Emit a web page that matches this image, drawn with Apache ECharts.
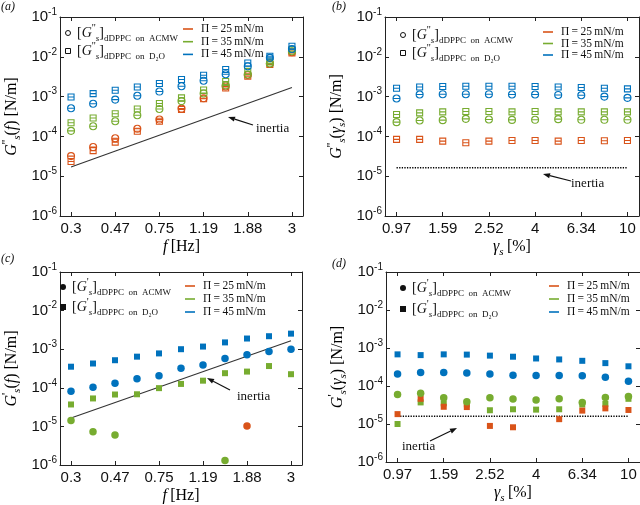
<!DOCTYPE html>
<html><head><meta charset="utf-8">
<script src="https://cdn.jsdelivr.net/npm/echarts@6/dist/echarts.min.js"></script>
<style>html,body{margin:0;padding:0;background:#fff}#c{width:640px;height:505px}</style>
</head><body><div id="c"></div><script>
// ---------- categories (tick labels shown every other one) ----------
const fCats = ['0.3','0.38','0.47','0.6','0.75','0.95','1.19','1.5','1.88','2.38','3'];
const gCats = ['0.97','1.26','1.59','2','2.52','3.17','4','5.04','6.34','8','10'];
const yMin = 1e-6, yMax = 1e-1;

// ---------- panel (a): G''s(f) ----------
const aRedCircle   = [3.2e-5,5.4e-5,9.0e-5,1.55e-4,2.65e-4,5.0e-4,9.1e-4,1.8e-3,3.5e-3,6.7e-3,1.3e-2];
const aRedSquare   = [2.35e-5,4.4e-5,7.2e-5,1.35e-4,2.4e-4,4.75e-4,8.8e-4,1.65e-3,3.25e-3,6.4e-3,1.25e-2];
const aGreenCircle = [1.38e-4,1.8e-4,2.4e-4,3.4e-4,4.9e-4,7.7e-4,1.2e-3,1.9e-3,3.6e-3,6.8e-3,1.38e-2];
const aGreenSquare = [2.2e-4,2.9e-4,3.7e-4,4.9e-4,6.7e-4,9.3e-4,1.47e-3,2.4e-3,4.3e-3,7.4e-3,1.5e-2];
const aBlueCircle  = [5.1e-4,6.6e-4,8.4e-4,1.05e-3,1.34e-3,1.82e-3,2.5e-3,3.65e-3,5.8e-3,9.4e-3,1.57e-2];
const aBlueSquare  = [9.8e-4,1.19e-3,1.45e-3,1.75e-3,2.13e-3,2.68e-3,3.44e-3,4.8e-3,7.0e-3,1.03e-2,1.84e-2];
const aInertia     = [1.7e-5, 1.7e-3];

// ---------- panel (b): G''s(gamma) ----------
const bRedSquare   = [8.4e-5,8.4e-5,7.6e-5,6.9e-5,7.6e-5,7.9e-5,7.9e-5,7.6e-5,7.9e-5,7.8e-5,7.9e-5];
const bGreenCircle = [2.28e-4,2.51e-4,2.56e-4,2.76e-4,2.66e-4,2.6e-4,2.61e-4,2.71e-4,2.61e-4,2.61e-4,2.61e-4];
const bGreenSquare = [3.55e-4,3.9e-4,4.14e-4,4.22e-4,4.22e-4,4.14e-4,4.22e-4,4.14e-4,4.14e-4,4.14e-4,4.14e-4];
const bBlueCircle  = [8.95e-4,1.13e-3,1.15e-3,1.15e-3,1.15e-3,1.13e-3,1.13e-3,1.1e-3,1.08e-3,1.0e-3,9.3e-4];
const bBlueSquare  = [1.62e-3,1.75e-3,1.79e-3,1.82e-3,1.82e-3,1.82e-3,1.79e-3,1.75e-3,1.69e-3,1.62e-3,1.56e-3];
const bInertia     = [1.63e-5, 1.63e-5];

// ---------- panel (c): G's(f) ----------
const cBlueSquare  = [3.52e-4,4.26e-4,5.18e-4,6.41e-4,7.78e-4,1.0e-3,1.17e-3,1.5e-3,1.89e-3,2.17e-3,2.53e-3];
const cBlueCircle  = [8.2e-5,1.04e-4,1.31e-4,1.72e-4,2.05e-4,3.19e-4,3.87e-4,5.7e-4,7.2e-4,8.7e-4,1.0e-3];
const cGreenSquare = [3.7e-5,5.3e-5,6.7e-5,6.8e-5,9.8e-5,1.26e-4,1.53e-4,2.39e-4,2.63e-4,3.66e-4,2.25e-4];
const cGreenCircle = [1.42e-5,7.3e-6,6.0e-6,null,null,null,null,1.31e-6,null,null,null];
const cRedCircle   = [null,null,null,null,null,null,null,null,1.02e-5,null,null];
const cInertia     = [1.65e-5, 1.65e-3];

// ---------- panel (d): G's(gamma) ----------
const dBlueSquare  = [6.8e-4,6.5e-4,6.8e-4,6.7e-4,6.3e-4,5.9e-4,5.3e-4,5.0e-4,4.6e-4,4.0e-4,3.3e-4];
const dBlueCircle  = [2.08e-4,2.25e-4,2.25e-4,2.21e-4,2.08e-4,1.93e-4,1.89e-4,1.89e-4,1.86e-4,1.69e-4,1.34e-4];
const dGreenCircle = [5.93e-5,6.41e-5,4.89e-5,3.87e-5,4.89e-5,4.52e-5,4.26e-5,4.61e-5,3.66e-5,4.98e-5,5.28e-5];
const dGreenSquare = [1.0e-5,3.7e-5,3.5e-5,3.3e-5,2.3e-5,2.44e-5,2.39e-5,2.44e-5,3.26e-5,3.39e-5,4.6e-5];
const dRedSquare   = [1.82e-5,4.6e-5,2.84e-5,2.79e-5,8.9e-6,8.2e-6,null,1.34e-5,2.25e-5,2.58e-5,2.34e-5];
const dInertia     = [1.6e-5, 1.6e-5];

const legendPressures = ['Π\u2009=\u200925\u2009mN/m','Π\u2009=\u200935\u2009mN/m','Π\u2009=\u200945\u2009mN/m'];

// ---------- styling ----------
const RED = '#D95319', GREEN = '#77AC30', BLUE = '#0072BD';
const SANS = 'Liberation Sans', SERIF = 'Liberation Serif';
const OPEN_CIRCLE = 'path://M0,5A5,5 0 1 1 10,5A5,5 0 1 1 0,5ZM0,5L10,5';
const OPEN_SQUARE = 'path://M0,0L10,0L10,10L0,10ZM0,5L10,5';

const grids = [
  {left:49, top:17, width:254, height:199},
  {left:385, top:17, width:254, height:199},
  {left:48, top:272, width:254, height:198},
  {left:386, top:272, width:254, height:198}
];
const catsFor = [fCats, gCats, fCats, gCats];

const nameRich = {
  n:{fontFamily:SERIF,fontSize:16,color:'#000',lineHeight:22},
  i:{fontFamily:SERIF,fontSize:16,fontStyle:'italic',color:'#000',lineHeight:22},
  sp:{fontFamily:SERIF,fontSize:12,color:'#000',lineHeight:14,verticalAlign:'top'},
  sb:{fontFamily:SERIF,fontSize:11,fontStyle:'italic',color:'#000',lineHeight:13,verticalAlign:'bottom'}
};
const xNames = ['{i|f} {n|[Hz]}','{i|γ}{sb|s} {n|[%]}','{i|f} {n|[Hz]}','{i|γ}{sb|s} {n|[%]}'];
const yNames = ['{i|G}{sp|\'\'}{sb|s}{n|(}{i|f}{n|) [N/m]}',
                '{i|G}{sp|\'\'}{sb|s}{n|(}{i|γ}{sb|s}{n|) [N/m]}',
                '{i|G}{sp|\'}{sb|s}{n|(}{i|f}{n|) [N/m]}',
                '{i|G}{sp|\'}{sb|s}{n|(}{i|γ}{sb|s}{n|) [N/m]}'];

const xAxis = [], yAxis = [];
for (let k = 0; k < 4; k++) {
  xAxis.push({type:'category', gridIndex:k, data:catsFor[k], boundaryGap:true, position:'bottom',
    axisLine:{show:true, lineStyle:{color:'#222', width:1}},
    axisTick:{show:true, inside:true, length:4, alignWithLabel:true, interval:1, lineStyle:{color:'#222'}},
    axisLabel:{interval:1, margin:5, fontFamily:SANS, fontSize:15, color:'#111'},
    splitLine:{show:false},
    name:xNames[k], nameLocation:'middle', nameGap:20,
    nameTextStyle:{rich:nameRich, verticalAlign:'top'}});
  yAxis.push({type:'log', logBase:10, gridIndex:k, min:yMin, max:yMax, position:'left',
    axisLine:{show:true, lineStyle:{color:'#222', width:1}},
    axisTick:{show:true, inside:true, length:4, lineStyle:{color:'#222'}},
    axisLabel:{margin:3, formatter:function(v){const e=Math.round(Math.log10(v));return '{b|10}{e|'+e+'}';},
      rich:{b:{fontFamily:SANS,fontSize:15,color:'#111',lineHeight:20},
            e:{fontFamily:SANS,fontSize:10,color:'#111',lineHeight:9,verticalAlign:'top'}}},
    splitLine:{show:false},
    name:yNames[k], nameLocation:'middle', nameGap:37, nameRotate:90,
    nameTextStyle:{rich:nameRich}});
}
for (let k = 0; k < 4; k++) {
  xAxis.push({type:'category', gridIndex:k, data:catsFor[k], boundaryGap:true, position:'top',
    axisLine:{show:true, lineStyle:{color:'#222', width:1}},
    axisTick:{show:true, inside:true, length:4, alignWithLabel:true, interval:1, lineStyle:{color:'#222'}},
    axisLabel:{show:false, interval:1}, splitLine:{show:false}});
  yAxis.push({type:'log', logBase:10, gridIndex:k, min:yMin, max:yMax, position:'right',
    axisLine:{show:true, lineStyle:{color:'#222', width:1}},
    axisTick:{show:true, inside:true, length:4, lineStyle:{color:'#222'}},
    axisLabel:{show:false}, splitLine:{show:false}});
}

function pts(arr){ return arr.map(v => v == null ? '-' : v); }
function openSeries(k, arr, symbol, size, color){
  return {type:'scatter', xAxisIndex:k, yAxisIndex:k, data:pts(arr), symbol:symbol, symbolSize:size,
    itemStyle:{color:'rgba(0,0,0,0)', borderColor:color, borderWidth:1.1, opacity:1}, silent:true};
}
function filledSeries(k, arr, symbol, size, color){
  return {type:'scatter', xAxisIndex:k, yAxisIndex:k, data:pts(arr), symbol:symbol, symbolSize:size,
    itemStyle:{color:color, opacity:1}, silent:true};
}
function inertiaSeries(k, vals, dotted){
  const cats = catsFor[k];
  return {type:'line', xAxisIndex:k, yAxisIndex:k, symbol:'none', silent:true,
    data:[[cats[0], vals[0]], [cats[cats.length-1], vals[1]]],
    lineStyle:{color: dotted ? '#000' : '#333', width: dotted ? 1.5 : 1.1, type: dotted ? [1.3,1.3] : 'solid'}, z:1};
}

const series = [
  inertiaSeries(0, aInertia, false),
  openSeries(0, aRedCircle, OPEN_CIRCLE, 7, RED),
  openSeries(0, aRedSquare, OPEN_SQUARE, 6, RED),
  openSeries(0, aGreenCircle, OPEN_CIRCLE, 7, GREEN),
  openSeries(0, aGreenSquare, OPEN_SQUARE, 6, GREEN),
  openSeries(0, aBlueCircle, OPEN_CIRCLE, 7, BLUE),
  openSeries(0, aBlueSquare, OPEN_SQUARE, 6, BLUE),

  inertiaSeries(1, bInertia, true),
  openSeries(1, bRedSquare, OPEN_SQUARE, 6, RED),
  openSeries(1, bGreenCircle, OPEN_CIRCLE, 7, GREEN),
  openSeries(1, bGreenSquare, OPEN_SQUARE, 6, GREEN),
  openSeries(1, bBlueCircle, OPEN_CIRCLE, 7, BLUE),
  openSeries(1, bBlueSquare, OPEN_SQUARE, 6, BLUE),

  inertiaSeries(2, cInertia, false),
  filledSeries(2, cBlueSquare, 'rect', 6, BLUE),
  filledSeries(2, cBlueCircle, 'circle', 7.5, BLUE),
  filledSeries(2, cGreenSquare, 'rect', 6, GREEN),
  filledSeries(2, cGreenCircle, 'circle', 7.5, GREEN),
  filledSeries(2, cRedCircle, 'circle', 7.5, RED),

  inertiaSeries(3, dInertia, true),
  filledSeries(3, dBlueSquare, 'rect', 6, BLUE),
  filledSeries(3, dBlueCircle, 'circle', 7.5, BLUE),
  filledSeries(3, dGreenSquare, 'rect', 6, GREEN),
  filledSeries(3, dRedSquare, 'rect', 6, RED),
  filledSeries(3, dGreenCircle, 'circle', 7.5, GREEN)
];

// ---------- annotations (legends, arrows, panel tags) ----------
const legRich = {
  n:{fontFamily:SERIF,fontSize:14,color:'#111',lineHeight:20},
  i:{fontFamily:SERIF,fontSize:14,fontStyle:'italic',color:'#111',lineHeight:20},
  sp:{fontFamily:SERIF,fontSize:11,color:'#111',lineHeight:13,verticalAlign:'top'},
  sb:{fontFamily:SERIF,fontSize:9,fontStyle:'italic',color:'#111',lineHeight:11,verticalAlign:'bottom'},
  sm:{fontFamily:SERIF,fontSize:9,color:'#111',lineHeight:11,verticalAlign:'bottom'}
};
const graphic = [];
function txt(x, y, text, rich, extra){
  graphic.push({type:'text', x:x, y:y, silent:true, z:10,
    style:Object.assign({text:text, rich:rich, align:'left', verticalAlign:'middle', fill:'#111'}, extra||{})});
}
function legend(mx, ty, dy, prime, filled, lx, ly, ldy){
  if (filled) {
    graphic.push({type:'circle', shape:{cx:mx, cy:ty, r:3}, style:{fill:'#111'}, silent:true, z:10});
    graphic.push({type:'rect', shape:{x:mx-3, y:ty+dy-3, width:6, height:6}, style:{fill:'#111'}, silent:true, z:10});
  } else {
    graphic.push({type:'circle', shape:{cx:mx, cy:ty, r:2.5}, style:{fill:'none', stroke:'#111', lineWidth:1}, silent:true, z:10});
    graphic.push({type:'rect', shape:{x:mx-2.5, y:ty+dy-2.5, width:5, height:5}, style:{fill:'none', stroke:'#111', lineWidth:1}, silent:true, z:10});
  }
  const p = prime ? '\'\'' : '\'';
  txt(mx+9, ty, '{n|[}{i|G}{sp|'+p+'}{sb|s}{n|]}{sm|dDPPC  on  ACMW}', legRich);
  txt(mx+9, ty+dy, '{n|[}{i|G}{sp|'+p+'}{sb|s}{n|]}{sm|dDPPC  on  D₂O}', legRich);
  const cols = [RED, GREEN, BLUE];
  for (let j = 0; j < 3; j++) {
    const y = ly + j*ldy;
    graphic.push({type:'line', shape:{x1:lx, y1:y, x2:lx+10, y2:y}, style:{stroke:cols[j], lineWidth:1.6}, silent:true, z:10});
    txt(lx+18, y, legendPressures[j], null, {font:'11.5px "Liberation Serif"'});
  }
}
legend(68, 33, 18, true, false, 183, 29, 12.7);
legend(403, 35, 18, true, false, 543, 32, 11.5);
legend(63, 287, 20, false, true, 185, 286, 13);
legend(403, 288, 21, false, true, 549, 286, 13);

function arrow(x1, y1, x2, y2){
  const ang = Math.atan2(y2-y1, x2-x1), L = 7, W = 2.6;
  const bx = x2 - L*Math.cos(ang), by = y2 - L*Math.sin(ang);
  graphic.push({type:'line', shape:{x1:x1, y1:y1, x2:bx, y2:by}, style:{stroke:'#111', lineWidth:1.2}, silent:true, z:10});
  graphic.push({type:'polygon', shape:{points:[[x2,y2],[bx - W*Math.sin(ang), by + W*Math.cos(ang)],[bx + W*Math.sin(ang), by - W*Math.cos(ang)]]},
    style:{fill:'#111'}, silent:true, z:10});
}
arrow(253, 125, 228, 117); txt(256, 129, 'inertia', null, {font:'13px "Liberation Serif"'});
arrow(571, 181, 543, 174); txt(571, 184, 'inertia', null, {font:'13px "Liberation Serif"'});
arrow(230, 390, 207, 378); txt(237, 397, 'inertia', null, {font:'13px "Liberation Serif"'});
arrow(430, 441, 457, 428); txt(402, 447, 'inertia', null, {font:'13px "Liberation Serif"'});

txt(1, 7, '(a)', null, {font:'italic 12px "Liberation Serif"'});
txt(332, 7, '(b)', null, {font:'italic 12px "Liberation Serif"'});
txt(1, 259, '(c)', null, {font:'italic 12px "Liberation Serif"'});
txt(332, 264, '(d)', null, {font:'italic 12px "Liberation Serif"'});

const chart = echarts.init(document.getElementById('c'), null, {renderer:'canvas'});
chart.setOption({animation:false, backgroundColor:'#fff', grid:grids, xAxis:xAxis, yAxis:yAxis, series:series, graphic:graphic});
</script></body></html>
